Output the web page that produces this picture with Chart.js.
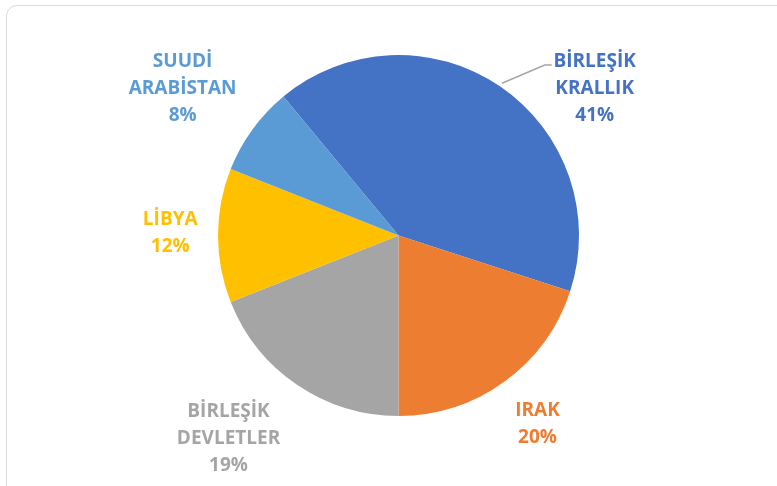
<!DOCTYPE html>
<html>
<head>
<meta charset="utf-8">
<script src="https://cdn.jsdelivr.net/npm/chart.js@4.4.1/dist/chart.umd.min.js"></script>
<style>
  html, body { margin: 0; padding: 0; background: #fff; overflow: hidden; }
  #wrap { position: relative; width: 777px; height: 486px; }
  #frame {
    position: absolute; left: 6px; top: 5px; width: 800px; height: 520px;
    border: 1.5px solid #d9d9d9; border-radius: 11px; box-sizing: border-box;
  }
  canvas { position: absolute; left: 0; top: 0; }
</style>
</head>
<body>
<div id="wrap">
  <div id="frame"></div>
  <canvas id="pieChart" width="777" height="486"></canvas>
</div>
<script>
// ülkeler ve paylar (%)
const countries = [['BİRLEŞİK', 'KRALLIK'], ['IRAK'], ['BİRLEŞİK', 'DEVLETLER'], ['LİBYA'], ['SUUDİ', 'ARABİSTAN']];
const shares = [41, 20, 19, 12, 8];
const sliceColors = ['#4472C4', '#ED7D31', '#A5A5A5', '#FFC000', '#5B9BD5'];

// etiket yerleşimi: [açı (derece, saat yönü, tepeden), yarıçap katsayısı]
const labelSpots = [[52.5, 1.37], [143, 1.28], [220.5, 1.45], [271.5, 1.265], [305, 1.46]];

const pieLabels = {
    id: 'pieLabels',
    afterDatasetsDraw(chart) {
        const ctx = chart.ctx;
        const meta = chart.getDatasetMeta(0);
        const total = shares.reduce((a, b) => a + b, 0);
        ctx.save();
        ctx.font = 'bold 19px "Open Sans", sans-serif';
        ctx.textAlign = 'center';
        ctx.textBaseline = 'middle';
        meta.data.forEach((arc, i) => {
            const { x, y, outerRadius: r } = arc.getProps(['x', 'y', 'outerRadius'], true);
            const a = labelSpots[i][0] * Math.PI / 180;
            const lx = x + Math.sin(a) * r * labelSpots[i][1];
            const ly = y - Math.cos(a) * r * labelSpots[i][1] + 4;
            const lines = [...countries[i], Math.round(shares[i] / total * 100) + '%'];
            const lh = 27;
            const top = ly - (lines.length - 1) * lh / 2;

            if (i === 0) {
                // leader line
                const mid = (arc.startAngle + arc.endAngle) / 2;
                const sx = x + Math.cos(mid) * r * 1.02;
                const sy = y + Math.sin(mid) * r * 1.02;
                const ey = top + 3;
                ctx.strokeStyle = '#A5A5A5';
                ctx.lineWidth = 1.5;
                ctx.beginPath();
                ctx.moveTo(sx, sy);
                ctx.lineTo(lx - 50, ey);
                ctx.lineTo(lx - 43, ey);
                ctx.stroke();
            }

            ctx.fillStyle = sliceColors[i];
            lines.forEach((t, k) => ctx.fillText(t, lx, top + k * lh));
        });
        ctx.restore();
    }
};

new Chart(document.getElementById('pieChart').getContext('2d'), {
    type: 'pie',
    data: {
        labels: countries.map(c => c.join(' ')),
        datasets: [{
            data: shares,
            backgroundColor: sliceColors,
            borderWidth: 0
        }]
    },
    options: {
        responsive: false,
        animation: false,
        rotation: -39.6,
        layout: { padding: { top: 55, bottom: 70, left: 101, right: 81 } },
        plugins: {
            legend: { display: false },
            tooltip: { enabled: false }
        }
    },
    plugins: [pieLabels]
});
</script>
</body>
</html>
